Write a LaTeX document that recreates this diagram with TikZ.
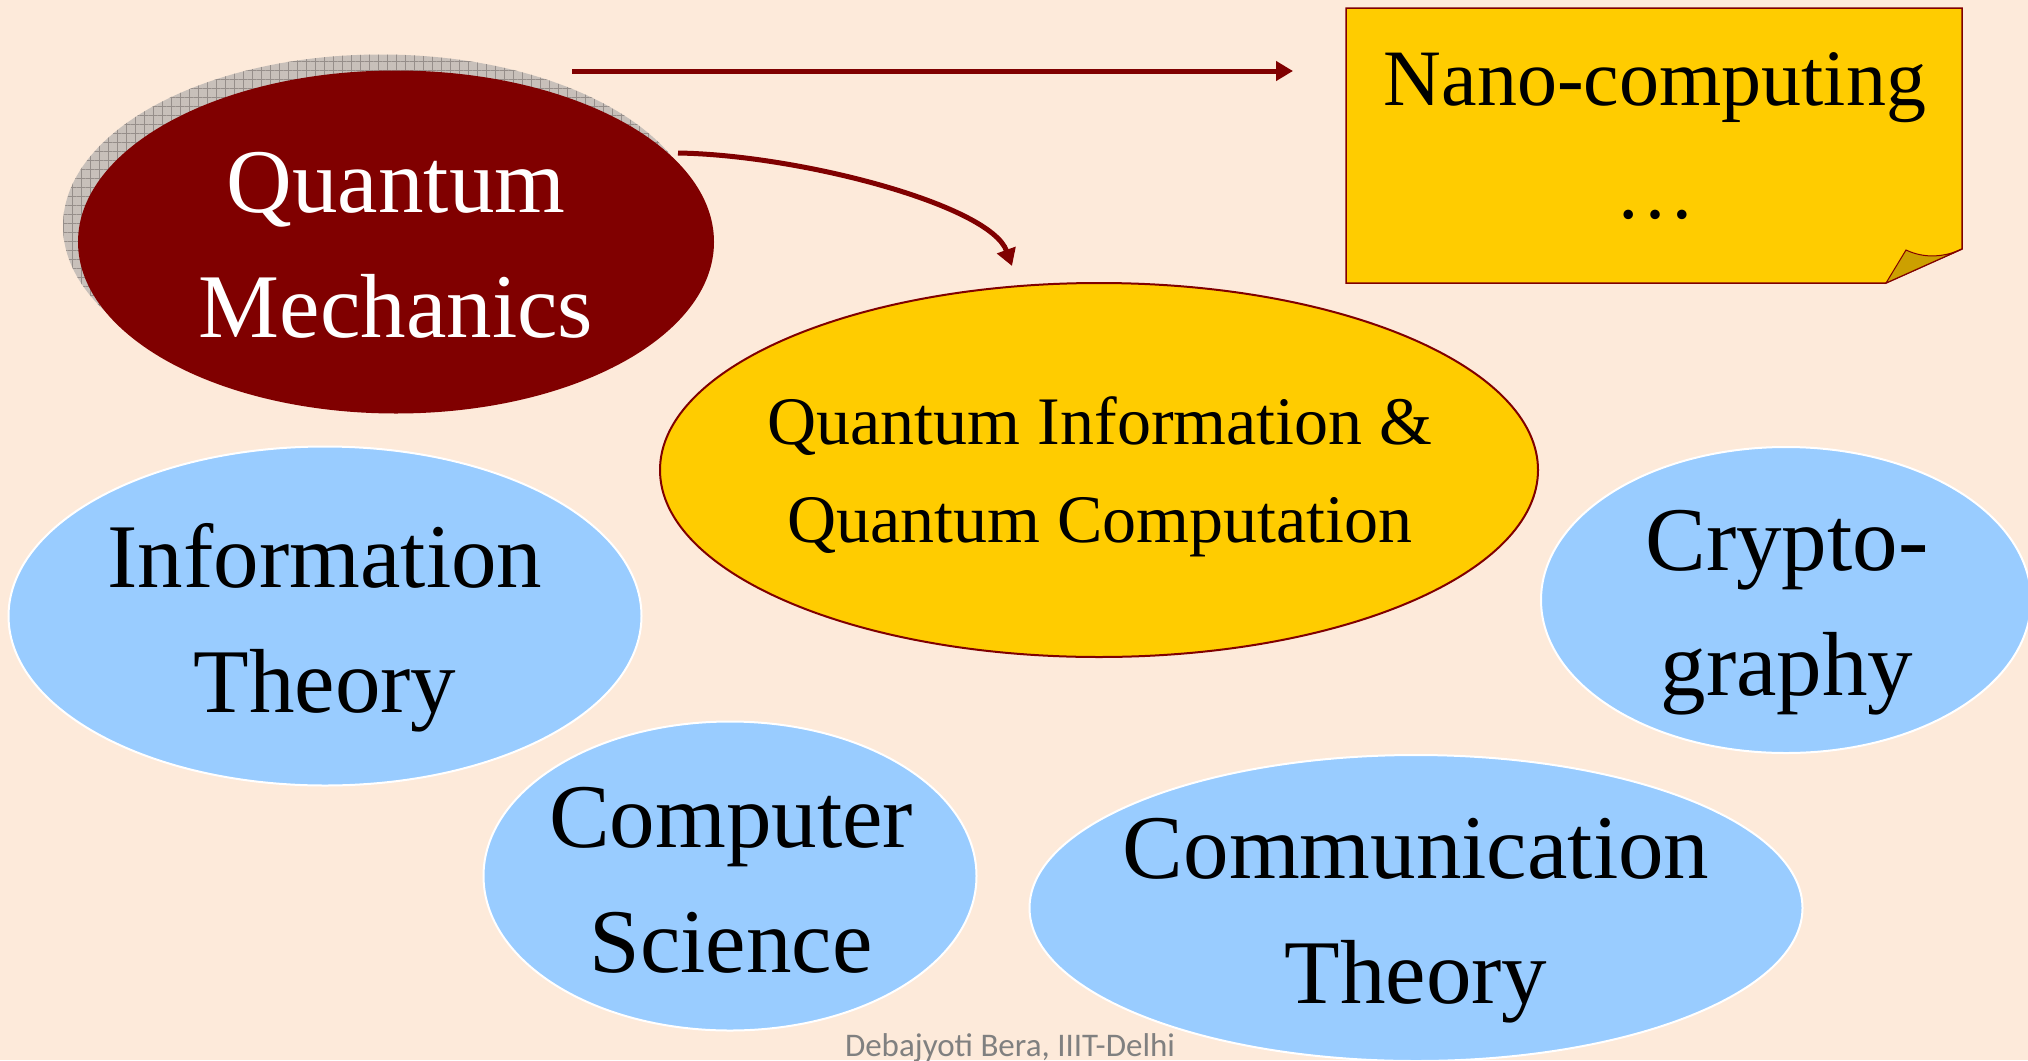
\documentclass[tikz,border=0pt]{standalone}
\usepackage{fontspec}
\setmainfont{Liberation Serif}
\newfontfamily\creditfont{Carlito}
\usepackage{xcolor}
\usetikzlibrary{shapes.geometric,arrows.meta,patterns.meta}

\definecolor{fond}{RGB}{253,234,218}
\definecolor{bordeaux}{RGB}{128,0,0}
\definecolor{jaune}{RGB}{255,204,0}
\definecolor{pli}{RGB}{204,160,0}
\definecolor{ciel}{RGB}{153,204,255}
\definecolor{ombre}{RGB}{200,192,186}
\definecolor{ombretrait}{RGB}{150,142,138}

\begin{document}
\begin{tikzpicture}[x=1pt,y=-1pt,
    bulle/.style={ellipse,inner sep=0pt},
    champ/.style={bulle,fill=ciel,draw=white,line width=2pt},
    titre/.style={align=center,inner sep=0pt,font=\fontsize{91}{125}\selectfont},
    fleche/.style={draw=bordeaux,line width=5pt,-{Triangle[length=17pt,width=19pt]}}]
      \def\W{2028}
      \def\H{1060}

      \useasboundingbox (0,0) rectangle (\W,\H);
      \fill[fond] (0,0) rectangle (\W,\H);
      \clip (0,0) rectangle (\W,\H);

      % Mecanique quantique
      \node[bulle,minimum width=636pt,minimum height=343pt,preaction={fill=ombre},
        pattern={Hatch[angle=0,distance=9pt,line width=0.8pt]},pattern color=ombretrait] (qmombre) at (381,226) {};
      \node[bulle,fill=bordeaux,minimum width=636pt,minimum height=343pt] (qm) at (396,242) {};
      \node[titre,text=white] (qmtexte) at (396,250) {\strut Quantum\\\strut Mechanics};

      % Information quantique
      \node[bulle,fill=jaune,draw=bordeaux,line width=2pt,minimum width=878pt,minimum height=374pt] (qi) at (1099,470) {};
      \node[titre,font=\fontsize{68}{98}\selectfont] (qitexte) at (1100,474)
        {\strut Quantum Information \&\\\strut Quantum Computation};

      % Domaines
      \node[champ,minimum width=633pt,minimum height=339pt] (info) at (325,616) {};
      \node[titre] (infotexte) at (325,625) {\strut Information\\\strut Theory};
      \node[champ,minimum width=493pt,minimum height=309pt] (cs) at (730,876) {};
      \node[titre] (cstexte) at (731,885) {\strut Computer\\\strut Science};
      \node[champ,minimum width=773pt,minimum height=306pt] (comm) at (1416,908) {};
      \node[titre] (commtexte) at (1416,916) {\strut Communication\\\strut Theory};
      \node[champ,minimum width=490pt,minimum height=306pt] (crypto) at (1786,600) {};
      \node[titre] (cryptotexte) at (1787,608) {\strut Crypto-\\\strut graphy};

      % Note
      \filldraw[fill=jaune,draw=bordeaux,line width=1.5pt]
        (1346,8) -- (1962,8) -- (1962,249) -- (1886,283) -- (1346,283) -- cycle;
      \filldraw[fill=pli,draw=bordeaux,line width=1pt]
        (1962,249) -- (1886,283) -- (1906,250) .. controls (1925,259) and (1945,257) .. (1962,249) -- cycle;
      \node[titre,font=\fontsize{80}{113}\selectfont] (nano) at (1655,139) {\strut Nano-computing\\\strut\dots};

      % Fleches
      \coordinate (depart) at (572,71);
      \coordinate (arrivee) at (1293,71);
      \draw[fleche] (depart) -- (arrivee);
      \coordinate (courbeA) at (678,153);
      \coordinate (courbeB) at (1012,266);
      \draw[fleche] (courbeA) .. controls (800,155) and (990,205) .. (courbeB);

      \node[font=\creditfont\fontsize{33}{38}\selectfont,text=gray,anchor=base,inner sep=0pt] (credit)
        at (1010,1056) {Debajyoti Bera, IIIT-Delhi};
    \end{tikzpicture}
\end{document}
